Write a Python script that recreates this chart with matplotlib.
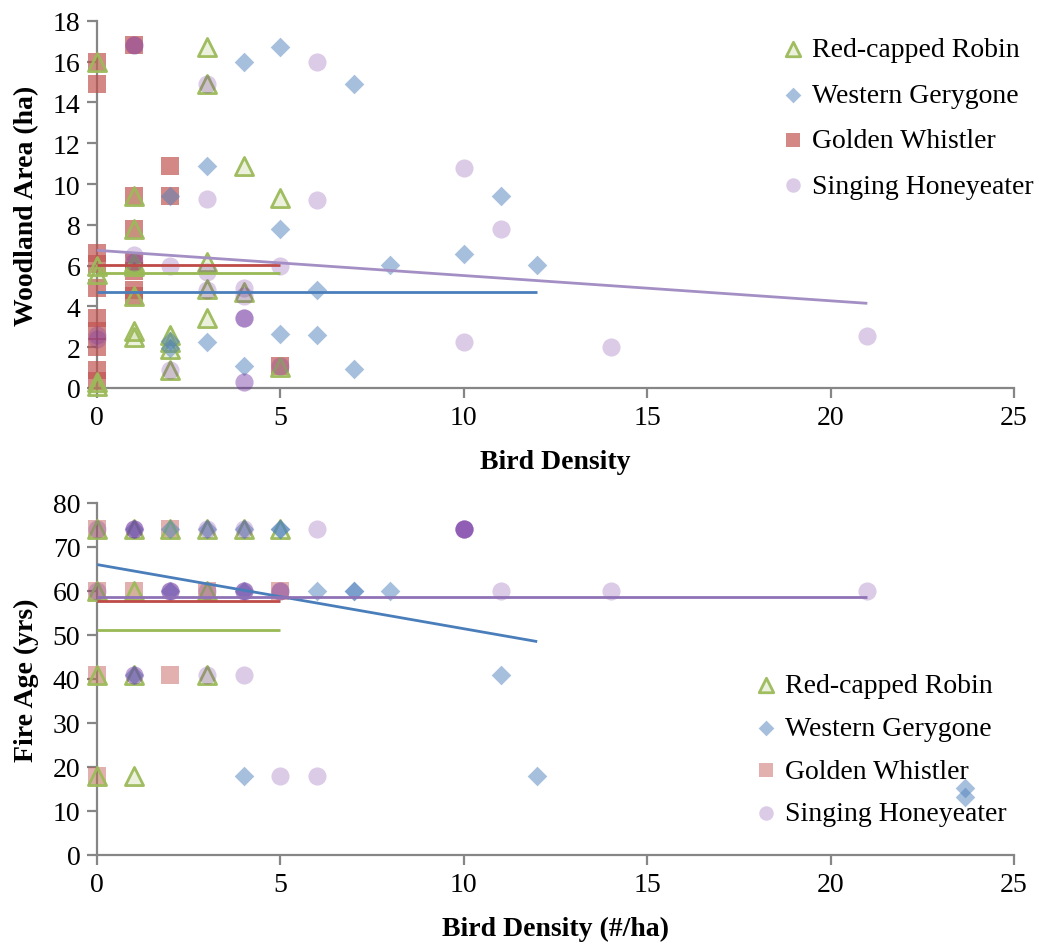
import matplotlib
matplotlib.use("Agg")
import matplotlib.pyplot as plt

plt.rcParams['font.family'] = ['Liberation Serif', 'DejaVu Serif']

species = ["Red-capped Robin", "Western Gerygone", "Golden Whistler", "Singing Honeyeater"]

# top panel: bird density vs woodland area (ha)
robin_top_x = [0, 0, 0, 0, 0, 1, 1, 1, 1, 1, 1, 1, 2, 2, 2, 2, 3, 3, 3, 3, 3, 4, 4, 5, 5]
robin_top_y = [16.0, 6.0, 5.6, 0.3, 0.1, 9.4, 7.8, 6.2, 6.0, 4.5, 2.8, 2.5,
               2.6, 2.25, 1.9, 0.9, 16.7, 14.9, 6.2, 4.85, 3.45, 10.9, 4.7, 9.3, 1.05]

gery_top_x = [2, 2, 2, 3, 3, 4, 4, 5, 5, 5, 6, 6, 7, 7, 8, 10, 11, 12]
gery_top_y = [9.4, 2.3, 1.95, 10.9, 2.25, 16.0, 1.1, 16.7, 7.8, 2.65,
              4.8, 2.6, 14.9, 0.95, 6.05, 6.55, 9.43, 6.05]

whist_top_x = [0, 0, 0, 0, 0, 0, 0, 0, 0, 0, 1, 1, 1, 1, 1, 1, 1, 2, 2, 5]
whist_top_y = [16.0, 14.9, 6.6, 6.1, 4.9, 3.45, 2.8, 2.0, 0.9, 0.35,
               16.8, 9.4, 7.8, 6.2, 5.75, 4.8, 4.5, 10.9, 9.4, 1.1]

honey_top_x = [0, 0, 1, 1, 1, 1, 2, 2, 3, 3, 3, 3, 4, 4, 4, 4, 4, 4, 4,
               5, 5, 6, 6, 10, 10, 11, 14, 21]
honey_top_y = [2.6, 2.4, 16.8, 16.8, 6.5, 6.2, 6.0, 0.9, 14.9, 9.25, 5.7, 4.8,
               4.9, 4.5, 3.45, 3.45, 3.45, 0.3, 0.3,
               6.0, 1.1, 16.0, 9.2, 10.8, 2.25, 7.8, 2.0, 2.55]

# trend lines (start/end) for the top panel
robin_top_line = ([0, 5], [5.65, 5.65])
gery_top_line = ([0, 12], [4.7, 4.7])
whist_top_line = ([0, 5], [6.05, 6.05])
honey_top_line = ([0, 21], [6.75, 4.15])

# bottom panel: bird density vs fire age (yrs)
robin_bot_x = [0, 1, 2, 3, 4, 5, 0, 1, 3, 0, 1, 3, 0, 1]
robin_bot_y = [74, 74, 74, 74, 74, 74, 60, 60, 60, 41, 41, 41, 18, 18]

gery_bot_x = [1, 2, 3, 4, 5, 5, 2, 4, 6, 7, 7, 8, 1, 11, 4, 12, 23.65, 23.65]
gery_bot_y = [74, 74, 74, 74, 74, 74, 60, 60, 60, 60, 60, 60, 41, 41, 18, 18, 15.3, 13.1]

whist_bot_x = [0, 2, 0, 1, 3, 5, 0, 2, 0]
whist_bot_y = [74, 74, 60, 60, 60, 60, 41, 41, 18]

honey_bot_x = [0, 1, 1, 1, 3, 4, 6, 10, 10, 10, 10, 10,
               0, 2, 2, 2, 3, 4, 4, 4, 5, 5, 11, 14, 21,
               1, 1, 3, 4, 5, 6]
honey_bot_y = [74, 74, 74, 74, 74, 74, 74, 74, 74, 74, 74, 74,
               60, 60, 60, 60, 60, 60, 60, 60, 60, 60, 60, 60, 60,
               41, 41, 41, 41, 18, 18]

robin_bot_line = ([0, 5], [51.2, 51.2])
gery_bot_line = ([0, 12], [66.0, 48.5])
whist_bot_line = ([0, 5], [57.8, 57.8])
honey_bot_line = ([0, 21], [58.6, 58.6])

AXIS_GREY = "#868686"
FS = 20


def style_axes(ax, ymax, ystep, xlabel, ylabel):
    ax.set_xlim(0, 25)
    ax.set_ylim(0, ymax)
    ax.set_xticks(range(0, 26, 5))
    ax.set_yticks(range(0, ymax + 1, ystep))
    for s in ["top", "right"]:
        ax.spines[s].set_visible(False)
    for s in ["left", "bottom"]:
        ax.spines[s].set_color(AXIS_GREY)
        ax.spines[s].set_linewidth(1.6)
    ax.tick_params(axis="both", direction="out", length=7, width=1.6,
                   color=AXIS_GREY, labelsize=FS, pad=5)
    ax.set_xlabel(xlabel, fontsize=FS, fontweight="bold", labelpad=14)
    ax.set_ylabel(ylabel, fontsize=FS, fontweight="bold", labelpad=10)


def draw_panel(ax, robin, gery, whist, honey, lines, whist_alpha, honey_line_color):
    ms = 170
    # squares first, others on top
    hw = ax.scatter(*whist, marker="s", s=ms, color="#c0504d", alpha=whist_alpha,
                    linewidths=0, clip_on=False, zorder=3, label=species[2])
    hr = ax.scatter(*robin, marker="^", s=ms, facecolor=(0.61, 0.73, 0.35, 0.2),
                    edgecolor=(0.61, 0.73, 0.35, 0.95), linewidths=2,
                    clip_on=False, zorder=4, label=species[0])
    hg = ax.scatter(*gery, marker="D", s=100, color="#4f81bd", alpha=0.5,
                    linewidths=0, clip_on=False, zorder=5, label=species[1])
    hh = ax.scatter(*honey, marker="o", s=ms, color="#7030a0", alpha=0.25,
                    linewidths=0, clip_on=False, zorder=6, label=species[3])
    colors = ["#98b954", "#4a7ebb", "#be4b48", honey_line_color]
    for (lx, ly), c in zip(lines, colors):
        ax.plot(lx, ly, color=c, lw=2, zorder=7, solid_capstyle="butt")
    return [hr, hg, hw, hh]


fig = plt.figure(figsize=(10.39, 9.45), dpi=100)
ax1 = fig.add_axes([0.0934, 0.5884, 0.8826, 0.3884])
ax2 = fig.add_axes([0.0934, 0.0942, 0.8826, 0.3725])

h1 = draw_panel(ax1, (robin_top_x, robin_top_y), (gery_top_x, gery_top_y),
                (whist_top_x, whist_top_y), (honey_top_x, honey_top_y),
                [robin_top_line, gery_top_line, whist_top_line, honey_top_line],
                0.68, "#a48fc4")
style_axes(ax1, 18, 2, "Bird Density", "Woodland Area (ha)")

h2 = draw_panel(ax2, (robin_bot_x, robin_bot_y), (gery_bot_x, gery_bot_y),
                (whist_bot_x, whist_bot_y), (honey_bot_x, honey_bot_y),
                [robin_bot_line, gery_bot_line, whist_bot_line, honey_bot_line],
                0.45, "#8f72b5")
style_axes(ax2, 80, 10, "Bird Density (#/ha)", "Fire Age (yrs)")

leg_kw = dict(frameon=False, fontsize=FS, markerscale=0.8, handlelength=0.7,
              handletextpad=0.35, borderpad=0, borderaxespad=0,
              scatterpoints=1, loc="upper left")
fig.legend(h1, species, bbox_to_anchor=(783 / 1039, 1 - 38 / 945),
           labelspacing=0.72, **leg_kw)
fig.legend(h2, species, bbox_to_anchor=(756 / 1039, 1 - 674 / 945),
           labelspacing=0.62, **leg_kw)

fig.savefig("out.png", dpi=100)
